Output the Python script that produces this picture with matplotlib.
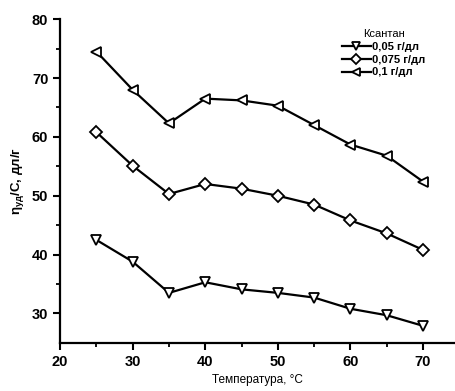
import matplotlib.pyplot as plt

# Data
temperature = [25, 30, 35, 40, 45, 50, 55, 60, 65, 70]
visc_005 = [42.5, 38.8, 33.5, 35.3, 34.1, 33.5, 32.7, 30.8, 29.7, 27.9]
visc_0075 = [60.8, 55.1, 50.3, 52.0, 51.2, 50.0, 48.5, 45.8, 43.6, 40.8]
visc_01 = [74.5, 68.0, 62.3, 66.5, 66.2, 65.3, 62.0, 58.7, 56.8, 52.4]
labels = ['0,05 г/дл', '0,075 г/дл', '0,1 г/дл']


def main():
    plt.rcParams['font.family'] = ['Liberation Sans', 'DejaVu Sans']
    plt.rcParams['mathtext.default'] = 'regular'
    fig = plt.figure(figsize=(4.55, 3.91), dpi=100)
    ax = fig.add_axes([0.132, 0.123, 0.868, 0.828])

    style = dict(color='black', lw=1.6, markerfacecolor='white',
                 markeredgecolor='black', markeredgewidth=1.3)
    ax.plot(temperature, visc_005, marker='v', markersize=7.5,
            label=labels[0], **style)
    ax.plot(temperature, visc_0075, marker='D', markersize=6,
            label=labels[1], **style)
    ax.plot(temperature, visc_01, marker='<', markersize=7.5,
            label=labels[2], **style)

    ax.set_xlim(20, 74.4)
    ax.set_ylim(25, 80)
    ax.set_xticks([20, 30, 40, 50, 60, 70])
    ax.set_xticks([25, 35, 45, 55, 65], minor=True)
    ax.set_yticks([30, 40, 50, 60, 70, 80])
    ax.set_yticks([35, 45, 55, 65, 75], minor=True)
    for lab in ax.get_xticklabels() + ax.get_yticklabels():
        lab.set_fontweight('bold')
    ax.tick_params(which='major', length=5, width=1.5, labelsize=10.5)
    ax.tick_params(which='minor', length=3, width=1.3)

    ax.spines['top'].set_visible(False)
    ax.spines['right'].set_visible(False)
    ax.spines['left'].set_linewidth(1.6)
    ax.spines['bottom'].set_linewidth(1.6)

    ax.set_xlabel('Температура, °С', fontsize=8.5)
    ax.set_ylabel(r'$\eta_{уд}$/С, дл/г', fontsize=9.5, fontweight='bold')

    leg = ax.legend(title='Ксантан', loc='upper right', frameon=False,
                    bbox_to_anchor=(0.95, 1.0), fontsize=8,
                    title_fontsize=8, handlelength=2.6, labelspacing=0.25,
                    handletextpad=0.1, markerscale=0.85)
    for t in leg.get_texts():
        t.set_fontweight('bold')

    fig.savefig('out.png', dpi=100)


if __name__ == '__main__':
    main()
